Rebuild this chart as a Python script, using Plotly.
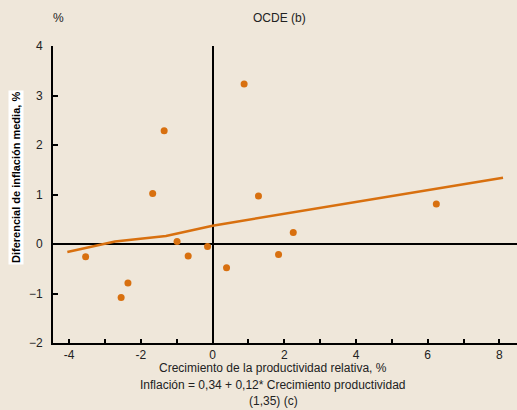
import plotly.graph_objects as go

# Data
prod_growth = [-1.35, 0.88, -1.67, 1.28, 6.24, 2.25, -0.99, -0.14, -0.68, 1.84, -3.54, 0.39, -2.36, -2.55]
inflation = [2.29, 3.23, 1.02, 0.97, 0.81, 0.23, 0.05, -0.05, -0.24, -0.21, -0.26, -0.48, -0.79, -1.08]
fit_x = [-4.05, -2.72, -1.30, 0.0, 8.1]
fit_y = [-0.16, 0.05, 0.16, 0.37, 1.34]
x_ticks = list(range(-4, 9))
x_tick_text = [str(v) if v % 2 == 0 else "" for v in x_ticks]
y_ticks = [-2, -1, 0, 1, 2, 3, 4]

orange = "#D8700F"
bg = "#EFE7DA"

W, H = 517, 410
l, r, t, b = 53, 0, 46, 67
pw, ph = W - l - r, H - t - b

fig = go.Figure()
fig.add_trace(go.Scatter(x=fit_x, y=fit_y, mode="lines",
                         line=dict(color=orange, width=2.5), showlegend=False))
fig.add_trace(go.Scatter(x=prod_growth, y=inflation, mode="markers",
                         marker=dict(color=orange, size=7, symbol="circle"),
                         showlegend=False))


def ann(text, px, py, **kw):
    return dict(text=text, x=(px - l) / pw, y=(H - b - py) / ph,
                xref="paper", yref="paper", xanchor="center", yanchor="middle",
                showarrow=False, **kw)


fig.update_layout(
    width=W, height=H,
    margin=dict(l=l, r=r, t=t, b=b, autoexpand=False),
    paper_bgcolor=bg, plot_bgcolor=bg,
    font=dict(family="Liberation Sans, Arial, sans-serif", size=12, color="#222"),
    xaxis=dict(range=[-4.45, 8.49], tickvals=x_ticks, ticktext=x_tick_text,
               automargin=False,
               showgrid=False, zeroline=True, zerolinecolor="black", zerolinewidth=2,
               showline=True, linecolor="black", linewidth=2,
               ticks="inside", ticklen=4, tickwidth=2, tickcolor="black"),
    yaxis=dict(range=[-2, 4], tickvals=y_ticks, automargin=False,
               showgrid=False, zeroline=True, zerolinecolor="black", zerolinewidth=2,
               showline=True, linecolor="black", linewidth=2,
               ticks="inside", ticklen=5, tickwidth=2, tickcolor="black",
               ticklabelstandoff=6),
    annotations=[
        ann("OCDE (b)", 279, 18),
        ann("%", 58, 18),
        ann("Crecimiento de la productividad relativa, %", 273, 368),
        ann("Inflación = 0,34 + 0,12* Crecimiento productividad", 273, 385),
        ann("(1,35) (c)", 273, 401),
        ann("<b>Diferencial de inflación media, %</b>", 16, 178, textangle=-90,
            bgcolor="white", font=dict(size=11, color="black")),
    ],
)

fig.write_html("out.html", config={"displayModeBar": False},
               post_script="document.body.style.margin='0px';document.body.style.overflow='hidden';")
